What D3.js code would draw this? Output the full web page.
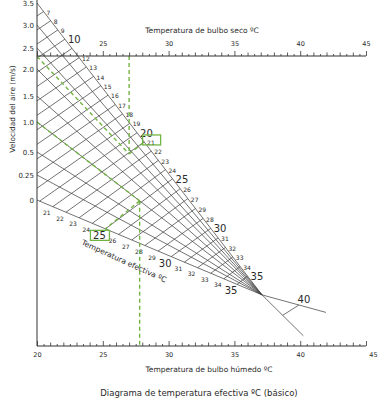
<!DOCTYPE html>
<html>
<head>
<meta charset="utf-8">
<script src="https://cdn.jsdelivr.net/npm/d3@7"></script>
<style>
  body { margin: 0; background: #fff; }
  text { font-family: "DejaVu Sans", Verdana, sans-serif; fill: #2a2a2a; }
</style>
</head>
<body>
<script>
// ---- data ----
const velocities = [0, 0.25, 0.5, 1.0, 1.5, 2.0, 2.5, 3.0, 3.5];
const velocityLabels = ['0', '0.25', '0.5', '1.0', '1.5', '2.0', '2.5', '3.0', '3.5'];
const dryBulbTicks = [25, 30, 35, 40, 45];
const wetBulbTicks = [20, 25, 30, 35, 40, 45];
// effective temperature lines
const etValues = [7, 8, 9, 10, 11, 12, 13, 14, 15, 16, 17, 18, 19, 20, 21,
                  22, 23, 24, 25, 26, 27, 28, 29, 30, 31, 32, 33, 34, 35];
// labels along the 3.5 m/s edge (11 hidden, 28/29 swapped as in the original)
const etUpperLabels = ['7', '8', '9', '10', '', '12', '13', '14', '15', '16', '17', '18', '19', '20', '21',
                       '22', '23', '24', '25', '26', '27', '29', '28', '30', '31', '32', '33', '34', '35'];
// labels along the 0 m/s edge
const etLowerValues = [21, 22, 23, 24, 25, 26, 27, 28, 29, 30, 31, 32, 33, 34, 35];
const etBig = [10, 20, 25, 30, 35];
// convergence of the velocity lines (ºC, depth between 0 m/s and the wet bulb axis)
const pivotT = 37.1, pivotDepth = 0.65;
// lines beyond the convergence point
const extLines = [
  { t: 41.96, depth: 0.77, et: 42.2 },
  { t: 40.24, depth: 0.93, et: 43.0 }
];
const extEt = 40;
// worked examples (green)
const exampleA = { db: 27, v: 2.3, et: 21 };
const exampleB = { wb: 27.8, v: 1.0, et: 25 };

const W = 388, H = 399;
const svg = d3.select('body').append('svg').attr('width', W).attr('height', H);

// scales
const x = d3.scaleLinear().domain([20, 45]).range([37, 366]);
const yV = d3.scaleLinear().domain(velocities).range([200, 175, 152, 122, 96, 69, 48, 25, 3]);
const yTop = 56, yBot = 346;
const yD = d3.scaleLinear().domain([0, 1]).range([yV(0), yBot]);
const etTop = d3.scaleLinear().domain([7, 12, 20, 25, 30, 35]).range([20.5, 23.2, 27.6, 30.3, 33.2, 36.0]);
const etBottom = d3.scaleLinear().domain([7, 35]).range([7.2, 35.2]);

const pivot = [x(pivotT), yD(pivotDepth)];
const green = '#72b443';
const gridColor = '#444';
const line = d3.line();

// point on a velocity line at temperature t
function velPoint(v, t) {
  const x0 = x(20), y0 = yV(v), px = x(t);
  const k = (px - x0) / (pivot[0] - x0);
  return [px, y0 + k * (pivot[1] - y0)];
}
function etSegment(T) {
  let a = velPoint(0, etBottom(T));
  const b = velPoint(3.5, etTop(T));
  if (a[0] < x(20)) {
    const k = (x(20) - a[0]) / (b[0] - a[0]);
    a = [x(20), a[1] + k * (b[1] - a[1])];
  }
  return [a, b];
}
function lerp(p, q, k) { return [p[0] + k * (q[0] - p[0]), p[1] + k * (q[1] - p[1])]; }

// velocity lines
svg.append('g').selectAll('path').data(velocities).join('path')
  .attr('d', v => line([[x(20), yV(v)], pivot]))
  .attr('fill', 'none').attr('stroke', gridColor).attr('stroke-width', 0.75);

// effective temperature lines
svg.append('g').selectAll('path').data(etValues).join('path')
  .attr('d', T => line(etSegment(T)))
  .attr('fill', 'none').attr('stroke', gridColor).attr('stroke-width', 0.75);

// lines beyond the pivot
const extEnds = extLines.map(e => [x(e.t), yD(e.depth)]);
svg.append('g').selectAll('path').data(extEnds).join('path')
  .attr('d', p => line([pivot, p]))
  .attr('fill', 'none').attr('stroke', gridColor).attr('stroke-width', 0.75);
const extCross = extLines.map((e, i) => lerp(pivot, extEnds[i], (extEt - 37) / (e.et - 37)));
svg.append('path').attr('d', line(extCross))
  .attr('fill', 'none').attr('stroke', gridColor).attr('stroke-width', 0.75);
svg.append('text').attr('x', extCross[0][0] + 5).attr('y', extCross[0][1] - 5)
  .attr('text-anchor', 'middle').attr('dominant-baseline', 'middle')
  .attr('font-size', 10).text(extEt);

// ET labels along upper edge
svg.append('g').selectAll('text').data(etValues).join('text')
  .each(function (T, i) {
    const b = velPoint(3.5, etTop(T));
    const big = etBig.includes(T);
    d3.select(this).attr('x', b[0] + 3).attr('y', b[1] + (big ? 1 : 1.5))
      .attr('dominant-baseline', 'middle')
      .attr('font-size', big ? 10 : 6)
      .text(etUpperLabels[i]);
  });

// ET labels along lower edge
svg.append('g').selectAll('text').data(etLowerValues).join('text')
  .each(function (T) {
    const a = velPoint(0, etBottom(T));
    const big = etBig.includes(T);
    d3.select(this).attr('x', a[0] - 6).attr('y', a[1] + 7)
      .attr('text-anchor', 'middle').attr('dominant-baseline', 'middle')
      .attr('font-size', big ? 10 : 6)
      .text(T);
  });

// "Temperatura efectiva ºC" along the lower edge
const etTitlePos = velPoint(0, 26.6);
svg.append('text')
  .attr('transform', `translate(${etTitlePos[0]},${etTitlePos[1] + 25}) rotate(24.5)`)
  .attr('text-anchor', 'middle').attr('dominant-baseline', 'middle')
  .attr('font-size', 7.6).text('Temperatura efectiva ºC');

// ---- green worked examples ----
const dash = '4,3';
function greenPath(pts) {
  svg.append('path').attr('d', line(pts)).attr('fill', 'none')
    .attr('stroke', green).attr('stroke-width', 1.4).attr('stroke-dasharray', dash);
}
// example A: dry bulb 27 + velocity -> ET 21
const pA = velPoint(exampleA.v, exampleA.db);
greenPath([[x(20), yV(exampleA.v)], pA]);
greenPath([[x(exampleA.db), yTop], pA]);
const endA = velPoint(3.5, etTop(exampleA.et));
greenPath([pA, endA]);
svg.append('rect').attr('x', endA[0] - 1.5).attr('y', endA[1] - 7).attr('width', 18).attr('height', 10)
  .attr('fill', 'none').attr('stroke', green).attr('stroke-width', 1.3);
// example B: wet bulb + velocity 1.0 -> ET 25
const pB = velPoint(exampleB.v, exampleB.wb);
greenPath([[x(20), yV(exampleB.v)], pB]);
greenPath([pB, [x(exampleB.wb), yBot]]);
const endB = velPoint(0, etBottom(exampleB.et));
greenPath([pB, endB]);
svg.append('rect').attr('x', endB[0] - 15).attr('y', endB[1] + 1.5).attr('width', 19).attr('height', 10)
  .attr('fill', 'none').attr('stroke', green).attr('stroke-width', 1.3);

// ---- axes ----
const axisColor = '#333';
// left (velocity)
svg.append('line').attr('x1', x(20)).attr('x2', x(20)).attr('y1', 0).attr('y2', yBot)
  .attr('stroke', axisColor).attr('stroke-width', 1);
const gl = svg.append('g').attr('transform', `translate(${x(20)},0)`)
  .call(d3.axisLeft(yV).tickValues(velocities).tickSize(0).tickPadding(3)
    .tickFormat((d, i) => velocityLabels[i]));
gl.select('.domain').remove();
gl.selectAll('text').attr('font-size', 7).attr('font-family', null).attr('fill', '#2a2a2a');

svg.append('text')
  .attr('transform', `translate(13,${yV(1.25)}) rotate(-90)`)
  .attr('text-anchor', 'middle').attr('dominant-baseline', 'middle')
  .attr('font-size', 7.4).text('Velocidad del aire (m/s)');

// tick sets
const halfTicks = d3.range(20, 45.01, 0.5);
function tickAxis(g, gen) {
  g.call(gen);
  g.select('.domain').remove();
  g.selectAll('line').attr('stroke', axisColor).attr('stroke-width', 0.8);
  g.selectAll('text').attr('font-family', null).attr('fill', '#2a2a2a').attr('font-size', 6.5);
}
function drawAxis(yPos, top, labels) {
  const g = svg.append('g').attr('transform', `translate(0,${yPos})`);
  g.append('line').attr('x1', x(20)).attr('x2', x(45)).attr('stroke', axisColor).attr('stroke-width', 1);
  const sizes = [[halfTicks.filter(d => d % 1 !== 0), 2], [halfTicks.filter(d => d % 1 === 0 && d % 5 !== 0), 3.5], [halfTicks.filter(d => d % 5 === 0), 5]];
  sizes.forEach(([vals, s]) => {
    const gen = (top ? d3.axisTop(x) : d3.axisBottom(x)).tickValues(vals)
      .tickSize(top ? s : -s).tickFormat('');
    tickAxis(g.append('g'), gen);
  });
  const lab = (top ? d3.axisTop(x) : d3.axisBottom(x)).tickValues(labels).tickSize(0)
    .tickPadding(top ? 10 : 6).tickFormat(d3.format('d'));
  const gl2 = g.append('g');
  tickAxis(gl2, lab);
  return gl2;
}
drawAxis(yTop, true, dryBulbTicks);
const gb = drawAxis(yBot, false, wetBulbTicks);
gb.selectAll('text').filter(d => d === 45).attr('dx', 7);

svg.append('text').attr('x', 202).attr('y', 31)
  .attr('text-anchor', 'middle').attr('dominant-baseline', 'middle')
  .attr('font-size', 7.5).text('Temperatura de bulbo seco ºC');
svg.append('text').attr('x', 209).attr('y', 370)
  .attr('text-anchor', 'middle').attr('dominant-baseline', 'middle')
  .attr('font-size', 7.5).text('Temperatura de bulbo húmedo ºC');
svg.append('text').attr('x', 199).attr('y', 393)
  .attr('text-anchor', 'middle').attr('dominant-baseline', 'middle')
  .attr('font-size', 8.5).text('Diagrama de temperatura efectiva ºC (básico)');
</script>
</body>
</html>
